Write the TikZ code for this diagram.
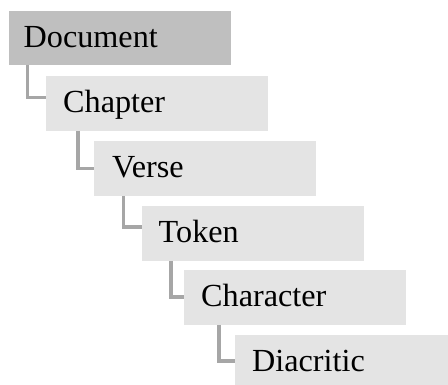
\documentclass[tikz,border=0pt]{standalone}
\usepackage{fontspec}
\setmainfont{Liberation Serif}
\definecolor{topfill}{HTML}{BFBFBF}
\definecolor{subfill}{HTML}{E4E4E4}
\definecolor{linkgray}{HTML}{A6A6A6}
\tikzset{
  levelbox/.style={fill=subfill, draw=none},
  rootbox/.style={fill=topfill, draw=none},
  label/.style={anchor=base west, inner sep=0pt, font=\fontsize{32.2}{37}\selectfont},
  link/.style={draw=linkgray, line width=3.4pt, line cap=butt, line join=miter}
}
\begin{document}
\begin{tikzpicture}[x=1pt, y=-1pt]
  \useasboundingbox (0,0) rectangle (448,385);
  \begin{scope}
    \clip (0,0) rectangle (448,385);
    % boxes, one per level
    \path[rootbox]  (9,11)   rectangle (231,65);
    \path[levelbox] (46,76)  rectangle (268,131);
    \path[levelbox] (94,141) rectangle (316,196);
    \path[levelbox] (142,206) rectangle (364,261);
    \path[levelbox] (184,270) rectangle (406,325);
    \path[levelbox] (235,335) rectangle (457,392);
  \end{scope}
  % anchors at the box corners used by the connectors
  \coordinate (docB) at (27.5,65);
  \coordinate (chaL) at (46,97.5);
  \coordinate (chaB) at (78,131);
  \coordinate (verL) at (94,168.5);
  \coordinate (verB) at (123.5,196);
  \coordinate (tokL) at (142,227);
  \coordinate (tokB) at (171,261);
  \coordinate (chrL) at (184,297);
  \coordinate (chrB) at (219,325);
  \coordinate (diaL) at (235,361);
  % elbow connectors
  \draw[link] (docB) |- (chaL);
  \draw[link] (chaB) |- (verL);
  \draw[link] (verB) |- (tokL);
  \draw[link] (tokB) |- (chrL);
  \draw[link] (chrB) |- (diaL);
  % labels
  \node[label] (doc) at (23.5,48)  {Document};
  \node[label] (cha) at (63,113) {Chapter};
  \node[label] (ver) at (112,178) {Verse};
  \node[label] (tok) at (158.5,243) {Token};
  \node[label] (chr) at (201,307) {Character};
  \node[label] (dia) at (252,372) {Diacritic};
\end{tikzpicture}
\end{document}
